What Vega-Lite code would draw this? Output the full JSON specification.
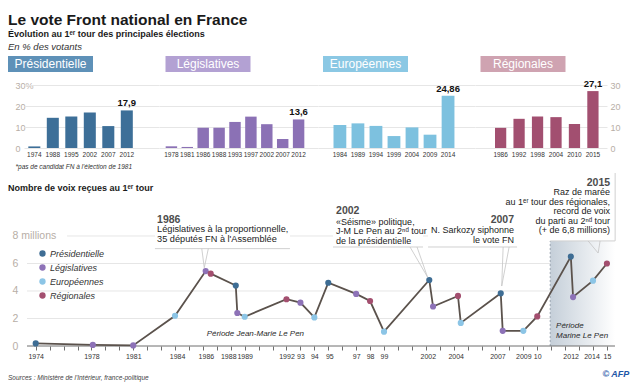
{
  "$schema": "https://vega.github.io/schema/vega-lite/v6.json",
  "background": "white",
  "padding": {"left": 8, "right": 4, "top": 13, "bottom": 2},
  "config": {
    "view": {"stroke": null},
    "font": "Liberation Sans",
    "axis": {"labelFont": "Liberation Sans", "titleFont": "Liberation Sans", "labelOverlap": false}
  },
  "title": {
    "text": "Le vote Front national en France",
    "subtitle": "Évolution au 1ᵉʳ tour des principales élections",
    "anchor": "start",
    "fontSize": 15.5,
    "fontWeight": "bold",
    "color": "#1a1a1a",
    "subtitleFontSize": 9,
    "subtitleFontWeight": "bold",
    "subtitleColor": "#1a1a1a",
    "subtitlePadding": 1,
    "offset": 3
  },
  "resolve": {"legend": {"color": "independent"}},
  "spacing": 2,
  "vconcat": [
    {
      "spacing": 7,
      "vconcat": [
        {
          "title": {"text": "En % des votants", "anchor": "start", "fontSize": 9.5, "fontStyle": "italic", "fontWeight": "normal", "color": "#333333", "offset": 5},
          "bounds": "flush",
          "spacing": 72.5,
          "hconcat": [
            {"width": 85, "height": 16, "data": {"values": [{"nom": "Présidentielle"}]},
             "layer": [{"mark": {"type": "rect", "color": "#5e91b8"}},
                       {"mark": {"type": "text", "color": "white", "fontSize": 12}, "encoding": {"text": {"field": "nom"}}}]},
            {"width": 85, "height": 16, "data": {"values": [{"nom": "Législatives"}]},
             "layer": [{"mark": {"type": "rect", "color": "#b3a1d3"}},
                       {"mark": {"type": "text", "color": "white", "fontSize": 12}, "encoding": {"text": {"field": "nom"}}}]},
            {"width": 85, "height": 16, "data": {"values": [{"nom": "Européennes"}]},
             "layer": [{"mark": {"type": "rect", "color": "#8bc8e4"}},
                       {"mark": {"type": "text", "color": "white", "fontSize": 12}, "encoding": {"text": {"field": "nom"}}}]},
            {"width": 85, "height": 16, "data": {"values": [{"nom": "Régionales"}]},
             "layer": [{"mark": {"type": "rect", "color": "#cfa3b1"}},
                       {"mark": {"type": "text", "color": "white", "fontSize": 12}, "encoding": {"text": {"field": "nom"}}}]}
          ]
        },
        {
          "bounds": "flush",
          "spacing": 0,
          "hconcat": [
            {
              "width": 16, "height": 63,
              "data": {"values": [{}]},
              "mark": {"type": "point", "opacity": 0},
              "encoding": {
                "y": {"datum": 0, "type": "quantitative", "scale": {"domain": [0, 30], "nice": false},
                      "axis": {"values": [0, 10, 20, 30], "title": null, "domain": false, "ticks": false, "grid": false,
                               "labelAlign": "left", "labelPadding": -7, "labelFontSize": 9, "labelColor": "#b7aea6",
                               "labelExpr": "datum.value == 30 ? '30%' : datum.label"}}
              }
            },
            {
              "width": 135, "height": 63,
              "data": {"values": [
                {"annee": "1974", "pct": 0.75}, {"annee": "1988", "pct": 14.38}, {"annee": "1995", "pct": 15.0},
                {"annee": "2002", "pct": 16.86}, {"annee": "2007", "pct": 10.44}, {"annee": "2012", "pct": 17.9}]},
              "encoding": {
                "x": {"field": "annee", "type": "nominal", "sort": null,
                      "scale": {"paddingInner": 0.35, "paddingOuter": 0.824, "align": 0.141},
                      "axis": {"title": "*pas de candidat FN à l'élection de 1981", "titleFontSize": 6.5, "titleFontStyle": "italic", "titleFontWeight": "normal", "titleColor": "#333333", "titleAlign": "left", "titleX": -9, "titleY": 20, "titleBaseline": "alphabetic",
                               "labelAngle": 0, "labelFontSize": 6.5, "labelColor": "#333333", "labelPadding": 3, "domain": false, "ticks": false, "labelOverlap": false}},
                "y": {"field": "pct", "type": "quantitative", "scale": {"domain": [0, 30], "nice": false},
                      "axis": {"values": [0, 10, 20, 30], "title": null, "domain": false, "ticks": false, "labels": false, "grid": true, "gridColor": "#e6e6e6"}}
              },
              "layer": [
                {"mark": {"type": "bar", "color": "#3d6f98"}},
                {"transform": [{"filter": "datum.annee == '2012'"}, {"calculate": "replace(toString(datum.pct), '.', ',')", "as": "lbl"}],
                 "mark": {"type": "text", "baseline": "alphabetic", "dy": -4, "fontSize": 9.5, "fontWeight": "bold", "color": "#111111"},
                 "encoding": {"text": {"field": "lbl"}}}
              ]
            },
            {
              "width": 159, "height": 63,
              "data": {"values": [
                {"annee": "1978", "pct": 0.8}, {"annee": "1981", "pct": 0.5}, {"annee": "1986", "pct": 9.65},
                {"annee": "1988", "pct": 9.65}, {"annee": "1993", "pct": 12.41}, {"annee": "1997", "pct": 14.94},
                {"annee": "2002", "pct": 11.34}, {"annee": "2007", "pct": 4.29}, {"annee": "2012", "pct": 13.6}]},
              "encoding": {
                "x": {"field": "annee", "type": "nominal", "sort": null,
                      "scale": {"paddingInner": 0.28, "paddingOuter": 0.64, "align": 0.328},
                      "axis": {"title": null, "labelAngle": 0, "labelFontSize": 6.5, "labelColor": "#333333", "labelPadding": 3, "domain": false, "ticks": false, "labelOverlap": false}},
                "y": {"field": "pct", "type": "quantitative", "scale": {"domain": [0, 30], "nice": false},
                      "axis": {"values": [0, 10, 20, 30], "title": null, "domain": false, "ticks": false, "labels": false, "grid": true, "gridColor": "#e6e6e6"}}
              },
              "layer": [
                {"mark": {"type": "bar", "color": "#8b71b5"}},
                {"transform": [{"filter": "datum.annee == '2012'"}, {"calculate": "replace(toString(datum.pct), '.', ',')", "as": "lbl"}],
                 "mark": {"type": "text", "baseline": "alphabetic", "dy": -4, "fontSize": 9.5, "fontWeight": "bold", "color": "#111111"},
                 "encoding": {"text": {"field": "lbl"}}}
              ]
            },
            {
              "width": 157, "height": 63,
              "data": {"values": [
                {"annee": "1984", "pct": 10.95}, {"annee": "1989", "pct": 11.73}, {"annee": "1994", "pct": 10.52},
                {"annee": "1999", "pct": 5.69}, {"annee": "2004", "pct": 9.81}, {"annee": "2009", "pct": 6.34},
                {"annee": "2014", "pct": 24.86}]},
              "encoding": {
                "x": {"field": "annee", "type": "nominal", "sort": null,
                      "scale": {"paddingInner": 0.29, "paddingOuter": 1.19, "align": 0.43},
                      "axis": {"title": null, "labelAngle": 0, "labelFontSize": 6.5, "labelColor": "#333333", "labelPadding": 3, "domain": false, "ticks": false, "labelOverlap": false}},
                "y": {"field": "pct", "type": "quantitative", "scale": {"domain": [0, 30], "nice": false},
                      "axis": {"values": [0, 10, 20, 30], "title": null, "domain": false, "ticks": false, "labels": false, "grid": true, "gridColor": "#e6e6e6"}}
              },
              "layer": [
                {"mark": {"type": "bar", "color": "#7dc1df"}},
                {"transform": [{"filter": "datum.annee == '2014'"}, {"calculate": "replace(toString(datum.pct), '.', ',')", "as": "lbl"}],
                 "mark": {"type": "text", "baseline": "alphabetic", "dy": -4, "fontSize": 9.5, "fontWeight": "bold", "color": "#111111"},
                 "encoding": {"text": {"field": "lbl"}}}
              ]
            },
            {
              "width": 132, "height": 63,
              "data": {"values": [
                {"annee": "1986", "pct": 9.6}, {"annee": "1992", "pct": 13.9}, {"annee": "1998", "pct": 15.0},
                {"annee": "2004", "pct": 14.7}, {"annee": "2010", "pct": 11.42}, {"annee": "2015", "pct": 27.1}]},
              "encoding": {
                "x": {"field": "annee", "type": "nominal", "sort": null,
                      "scale": {"paddingInner": 0.39, "paddingOuter": 0.77, "align": 0.703},
                      "axis": {"title": null, "labelAngle": 0, "labelFontSize": 6.5, "labelColor": "#333333", "labelPadding": 3, "domain": false, "ticks": false, "labelOverlap": false}},
                "y": {"field": "pct", "type": "quantitative", "scale": {"domain": [0, 30], "nice": false},
                      "axis": {"orient": "right", "values": [0, 10, 20, 30], "title": null, "domain": false, "ticks": false, "grid": true, "gridColor": "#e6e6e6",
                               "labelPadding": 3, "labelFontSize": 9, "labelColor": "#b7aea6"}}
              },
              "layer": [
                {"mark": {"type": "bar", "color": "#a24f70"}},
                {"transform": [{"filter": "datum.annee == '2015'"}, {"calculate": "replace(toString(datum.pct), '.', ',')", "as": "lbl"}],
                 "mark": {"type": "text", "baseline": "alphabetic", "dy": -4, "fontSize": 9.5, "fontWeight": "bold", "color": "#111111"},
                 "encoding": {"text": {"field": "lbl"}}}
              ]
            }
          ]
        }
      ]
    },
    {
      "width": 607, "height": 173,
      "data": {"values": [
        {"annee": 1974.0, "scrutin": "Présidentielle", "voix": 0.19},
        {"annee": 1978.1, "scrutin": "Législatives", "voix": 0.08},
        {"annee": 1981.0, "scrutin": "Législatives", "voix": 0.04},
        {"annee": 1984.0, "scrutin": "Européennes", "voix": 2.2},
        {"annee": 1986.2, "scrutin": "Législatives", "voix": 5.45},
        {"annee": 1986.56, "scrutin": "Régionales", "voix": 5.26},
        {"annee": 1988.36, "scrutin": "Présidentielle", "voix": 4.4},
        {"annee": 1988.47, "scrutin": "Législatives", "voix": 2.4},
        {"annee": 1989.0, "scrutin": "Européennes", "voix": 2.13},
        {"annee": 1992.0, "scrutin": "Régionales", "voix": 3.4},
        {"annee": 1993.0, "scrutin": "Législatives", "voix": 3.15},
        {"annee": 1994.0, "scrutin": "Européennes", "voix": 2.08},
        {"annee": 1995.0, "scrutin": "Présidentielle", "voix": 4.6},
        {"annee": 1997.0, "scrutin": "Législatives", "voix": 3.79},
        {"annee": 1998.0, "scrutin": "Régionales", "voix": 3.27},
        {"annee": 1999.0, "scrutin": "Européennes", "voix": 1.04},
        {"annee": 2002.25, "scrutin": "Présidentielle", "voix": 4.8},
        {"annee": 2002.52, "scrutin": "Législatives", "voix": 2.87},
        {"annee": 2004.31, "scrutin": "Régionales", "voix": 3.64},
        {"annee": 2004.51, "scrutin": "Européennes", "voix": 1.68},
        {"annee": 2007.38, "scrutin": "Présidentielle", "voix": 3.83},
        {"annee": 2007.52, "scrutin": "Législatives", "voix": 1.1},
        {"annee": 2009.0, "scrutin": "Européennes", "voix": 1.1},
        {"annee": 2010.0, "scrutin": "Régionales", "voix": 2.15},
        {"annee": 2012.41, "scrutin": "Présidentielle", "voix": 6.5},
        {"annee": 2012.57, "scrutin": "Législatives", "voix": 3.56},
        {"annee": 2014.0, "scrutin": "Européennes", "voix": 4.75},
        {"annee": 2015.0, "scrutin": "Régionales", "voix": 6.0}
      ]},
      "layer": [
        {"data": {"values": [{}]},
         "mark": {"type": "rule", "color": "#e6e6e6", "strokeWidth": 1},
         "encoding": {
           "x": {"datum": 1973.375, "type": "quantitative",
                 "scale": {"domain": [1972.011, 2015.58], "nice": false, "zero": false},
                 "axis": {"title": null, "grid": false, "domain": false, "tickCount": 100,
                          "values": [1974,1975,1976,1977,1978,1979,1980,1981,1982,1983,1984,1985,1986,1987,1988,1989,1990,1991,1992,1993,1994,1995,1996,1997,1998,1999,2000,2001,2002,2003,2004,2005,2006,2007,2008,2009,2010,2011,2012,2013,2014,2015],
                          "labelExpr": "indexof([1974,1978,1981,1984,1986,1988,1989,1992,1993,1994,1995,1997,1998,1999,2002,2004,2007,2009,2010,2012,2014,2015], datum.value) < 0 ? '' : (indexof([1993,1994,1995,1997,1998,1999,2010,2015], datum.value) >= 0 ? substring(toString(datum.value), 2, 4) : toString(datum.value))",
                          "labelOffset": {"condition": [
                            {"test": "datum.value == 1984", "value": 2},
                            {"test": "datum.value == 1986", "value": 3},
                            {"test": "datum.value == 1988", "value": -2.5},
                            {"test": "datum.value == 1992", "value": 0},
                            {"test": "datum.value == 1995", "value": 1},
                            {"test": "datum.value == 2002", "value": 2},
                            {"test": "datum.value == 2004", "value": 2},
                            {"test": "datum.value == 2007", "value": 2},
                            {"test": "datum.value == 2012", "value": 5.5},
                            {"test": "datum.value == 2014", "value": -1.5}], "value": 0},
                          "labelOverlap": false, "labelFontSize": 7, "labelColor": "#333333", "labelPadding": 2,
                          "tickColor": "#6e6e6e", "tickSize": 4}},
           "x2": {"datum": 2015.58},
           "y": {"datum": 2, "type": "quantitative",
                 "scale": {"domain": [0, 12.58], "nice": false, "zero": true},
                 "axis": {"title": null, "values": [0, 2, 4, 6, 8], "domain": false, "ticks": false, "grid": false,
                          "labelAlign": "left", "labelPadding": -4, "labelFontSize": 10.5, "labelColor": "#b7aea6",
                          "labelExpr": "datum.value == 8 ? '8 millions' : datum.label"}}}},
        {"data": {"values": [{}]},
         "mark": {"type": "rule", "color": "#e6e6e6", "strokeWidth": 1},
         "encoding": {"x": {"datum": 1973.375}, "x2": {"datum": 2015.58}, "y": {"datum": 4}}},
        {"data": {"values": [{}]},
         "mark": {"type": "rule", "color": "#e6e6e6", "strokeWidth": 1},
         "encoding": {"x": {"datum": 1973.375}, "x2": {"datum": 2015.58}, "y": {"datum": 6}}},
        {"data": {"values": [{}]},
         "mark": {"type": "rule", "color": "#e6e6e6", "strokeWidth": 1},
         "encoding": {"x": {"datum": 1976.25}, "x2": {"datum": 2015.58}, "y": {"datum": 8}}},
        {"data": {"values": [{}]},
         "mark": {"type": "rect", "color": {"gradient": "linear", "x1": 0, "y1": 0, "x2": 1, "y2": 0, "stops": [{"offset": 0, "color": "#c5cfd9"}, {"offset": 1, "color": "#ffffff"}]}},
         "encoding": {"x": {"datum": 2010.93}, "x2": {"datum": 2015.58}, "y": {"datum": 0}, "y2": {"datum": 7.8}}},
        {"data": {"values": [{}]},
         "mark": {"type": "rule", "color": "#9aa5b1", "strokeDash": [2, 2], "strokeWidth": 1},
         "encoding": {"x": {"datum": 2010.93}, "y": {"datum": 0}, "y2": {"datum": 7.8}}},
        {"data": {"values": [{}]},
         "mark": {"type": "rule", "color": "#6e6e6e", "strokeWidth": 1},
         "encoding": {"x": {"datum": 1973.375}, "x2": {"datum": 2015.58}, "y": {"datum": 0}}},
        {"data": {"values": [{}]}, "mark": {"type": "rect", "color": "white"},
         "encoding": {"x": {"datum": 1982.56}, "x2": {"datum": 1992.25}, "y": {"datum": 9.67}, "y2": {"datum": 7.08}}},
        {"data": {"values": [{}]}, "mark": {"type": "rect", "color": "white"},
         "encoding": {"x": {"datum": 1995.34}, "x2": {"datum": 2001.8}, "y": {"datum": 10.55}, "y2": {"datum": 7.2}}},
        {"data": {"values": [{}]}, "mark": {"type": "rect", "color": "white"},
         "encoding": {"x": {"datum": 2002.16}, "x2": {"datum": 2008.55}, "y": {"datum": 9.82}, "y2": {"datum": 7.2}}},
        {"data": {"values": [{}]}, "mark": {"type": "rect", "color": "white"},
         "encoding": {"x": {"datum": 2007.33}, "x2": {"datum": 2015.59}, "y": {"datum": 12.58}, "y2": {"datum": 7.64}}},
        {"data": {"values": [{}]}, "mark": {"type": "rule", "color": "#d0d0d0", "strokeWidth": 1},
         "encoding": {"x": {"datum": 1982.56}, "x2": {"datum": 1992.25}, "y": {"datum": 7.08}}},
        {"data": {"values": [{}]}, "mark": {"type": "rule", "color": "#d0d0d0", "strokeWidth": 1},
         "encoding": {"x": {"datum": 1995.34}, "x2": {"datum": 2001.8}, "y": {"datum": 7.2}}},
        {"data": {"values": [{}]}, "mark": {"type": "rule", "color": "#d0d0d0", "strokeWidth": 1},
         "encoding": {"x": {"datum": 2002.16}, "x2": {"datum": 2008.55}, "y": {"datum": 7.2}}},
        {"data": {"values": [{}]}, "mark": {"type": "rule", "color": "#d0d0d0", "strokeWidth": 1},
         "encoding": {"x": {"datum": 2010.93}, "x2": {"datum": 2015.59}, "y": {"datum": 7.64}}},
        {"data": {"values": [{}]}, "mark": {"type": "rule", "color": "#d0d0d0", "strokeWidth": 1},
         "encoding": {"x": {"datum": 2015.59}, "y": {"datum": 12.58}, "y2": {"datum": 7.64}}},
        {"data": {"values": [{}]}, "mark": {"type": "rule", "color": "#c4c4c4", "strokeWidth": 0.8},
         "encoding": {"x": {"datum": 1985.92}, "y": {"datum": 7.08}, "x2": {"datum": 1986.1}, "y2": {"datum": 5.69}}},
        {"data": {"values": [{}]}, "mark": {"type": "rule", "color": "#c4c4c4", "strokeWidth": 0.8},
         "encoding": {"x": {"datum": 1986.39}, "y": {"datum": 7.08}, "x2": {"datum": 1986.1}, "y2": {"datum": 5.69}}},
        {"data": {"values": [{}]}, "mark": {"type": "rule", "color": "#c4c4c4", "strokeWidth": 0.8},
         "encoding": {"x": {"datum": 2000.87}, "y": {"datum": 7.2}, "x2": {"datum": 2002.12}, "y2": {"datum": 5.02}}},
        {"data": {"values": [{}]}, "mark": {"type": "rule", "color": "#c4c4c4", "strokeWidth": 0.8},
         "encoding": {"x": {"datum": 2001.37}, "y": {"datum": 7.2}, "x2": {"datum": 2002.12}, "y2": {"datum": 5.02}}},
        {"data": {"values": [{}]}, "mark": {"type": "rule", "color": "#c4c4c4", "strokeWidth": 0.8},
         "encoding": {"x": {"datum": 2007.55}, "y": {"datum": 7.2}, "x2": {"datum": 2007.45}, "y2": {"datum": 4.36}}},
        {"data": {"values": [{}]}, "mark": {"type": "rule", "color": "#c4c4c4", "strokeWidth": 0.8},
         "encoding": {"x": {"datum": 2007.98}, "y": {"datum": 7.2}, "x2": {"datum": 2007.45}, "y2": {"datum": 4.36}}},
        {"data": {"values": [{}]}, "mark": {"type": "rule", "color": "#c4c4c4", "strokeWidth": 0.8},
         "encoding": {"x": {"datum": 2013.65}, "y": {"datum": 7.64}, "x2": {"datum": 2014.37}, "y2": {"datum": 6.76}}},
        {"data": {"values": [{}]}, "mark": {"type": "rule", "color": "#c4c4c4", "strokeWidth": 0.8},
         "encoding": {"x": {"datum": 2014.51}, "y": {"datum": 7.64}, "x2": {"datum": 2014.37}, "y2": {"datum": 6.76}}},
        {
          "mark": {"type": "line", "color": "#5b524c", "strokeWidth": 1.8},
          "encoding": {
            "x": {"field": "annee", "type": "quantitative"},
            "y": {"field": "voix", "type": "quantitative"}
          }
        },
        {
          "mark": {"type": "circle", "size": 38, "opacity": 1},
          "encoding": {
            "x": {"field": "annee", "type": "quantitative"},
            "y": {"field": "voix", "type": "quantitative"},
            "color": {"field": "scrutin", "type": "nominal",
                      "scale": {"domain": ["Présidentielle", "Législatives", "Européennes", "Régionales"], "range": ["#3e6d94", "#8d72b7", "#8cc5e6", "#a34f6f"]},
                      "legend": {"orient": "none", "legendX": 30, "legendY": 76, "title": null, "padding": 0,
                                 "labelFontStyle": "italic", "labelFontSize": 9, "labelColor": "#333333",
                                 "symbolType": "circle", "symbolSize": 40, "symbolStrokeWidth": 0, "rowPadding": 4, "labelOffset": 3}}
          }
        },
        {"data": {"values": [{}]},
         "mark": {"type": "text", "align": "left", "baseline": "alphabetic", "fontSize": 9, "fontWeight": "bold", "color": "#1a1a1a"},
         "encoding": {"x": {"datum": 1972.011}, "y": {"datum": 11.27}, "text": {"value": "Nombre de voix reçues au 1ᵉʳ tour"}}},
        {"data": {"values": [{}]},
         "mark": {"type": "text", "align": "left", "baseline": "alphabetic", "fontSize": 10.5, "fontWeight": "bold", "color": "#4d4d4d"},
         "encoding": {"x": {"datum": 1982.71}, "y": {"datum": 8.95}, "text": {"value": "1986"}}},
        {"data": {"values": [{}]},
         "mark": {"type": "text", "align": "left", "baseline": "alphabetic", "fontSize": 9.2, "lineHeight": 10, "color": "#222222"},
         "encoding": {"x": {"datum": 1982.71}, "y": {"datum": 8.29}, "text": {"value": ["Législatives à la proportionnelle,", "35 députés FN à l'Assemblée"]}}},
        {"data": {"values": [{}]},
         "mark": {"type": "text", "align": "left", "baseline": "alphabetic", "fontSize": 10.5, "fontWeight": "bold", "color": "#4d4d4d"},
         "encoding": {"x": {"datum": 1995.56}, "y": {"datum": 9.6}, "text": {"value": "2002"}}},
        {"data": {"values": [{}]},
         "mark": {"type": "text", "align": "left", "baseline": "alphabetic", "fontSize": 9, "lineHeight": 9.4, "color": "#222222"},
         "encoding": {"x": {"datum": 1995.56}, "y": {"datum": 8.8}, "text": {"value": ["«Séisme» politique,", "J-M Le Pen au 2ⁿᵈ tour", "de la présidentielle"]}}},
        {"data": {"values": [{}]},
         "mark": {"type": "text", "align": "right", "baseline": "alphabetic", "fontSize": 10.5, "fontWeight": "bold", "color": "#4d4d4d"},
         "encoding": {"x": {"datum": 2008.33}, "y": {"datum": 8.97}, "text": {"value": "2007"}}},
        {"data": {"values": [{}]},
         "mark": {"type": "text", "align": "right", "baseline": "alphabetic", "fontSize": 9, "lineHeight": 10, "color": "#222222"},
         "encoding": {"x": {"datum": 2008.33}, "y": {"datum": 8.24}, "text": {"value": ["N. Sarkozy siphonne", "le vote FN"]}}},
        {"data": {"values": [{}]},
         "mark": {"type": "text", "align": "right", "baseline": "alphabetic", "fontSize": 10.5, "fontWeight": "bold", "color": "#4d4d4d"},
         "encoding": {"x": {"datum": 2015.23}, "y": {"datum": 11.64}, "text": {"value": "2015"}}},
        {"data": {"values": [{}]},
         "mark": {"type": "text", "align": "right", "baseline": "alphabetic", "fontSize": 9, "lineHeight": 9.5, "color": "#222222"},
         "encoding": {"x": {"datum": 2015.23}, "y": {"datum": 10.98}, "text": {"value": ["Raz de marée", "au 1ᵉʳ tour des régionales,", "record de voix", "du parti au 2ⁿᵈ tour", "(+ de 6,8 millions)"]}}},
        {"data": {"values": [{}]},
         "mark": {"type": "text", "align": "left", "baseline": "alphabetic", "fontSize": 8, "fontStyle": "italic", "color": "#2a2a2a"},
         "encoding": {"x": {"datum": 1986.27}, "y": {"datum": 0.73}, "text": {"value": "Période Jean-Marie Le Pen"}}},
        {"data": {"values": [{}]},
         "mark": {"type": "text", "align": "left", "baseline": "alphabetic", "fontSize": 8, "fontStyle": "italic", "lineHeight": 10, "color": "#2a2a2a"},
         "encoding": {"x": {"datum": 2011.35}, "y": {"datum": 1.31}, "text": {"value": ["Période", "Marine Le Pen"]}}},
        {"data": {"values": [{}]},
         "mark": {"type": "text", "align": "left", "baseline": "alphabetic", "fontSize": 6.5, "fontStyle": "italic", "color": "#444444"},
         "encoding": {"x": {"datum": 1972.011}, "y": {"datum": -2.47}, "text": {"value": "Sources : Ministère de l'Intérieur, france-politique"}}},
        {"data": {"values": [{}]},
         "mark": {"type": "text", "align": "right", "baseline": "alphabetic", "fontSize": 9, "fontStyle": "italic", "fontWeight": "bold", "color": "#1f57a8"},
         "encoding": {"x": {"datum": 2016.6}, "y": {"datum": -2.25}, "text": {"value": "© AFP"}}}
      ]
    }
  ]
}
